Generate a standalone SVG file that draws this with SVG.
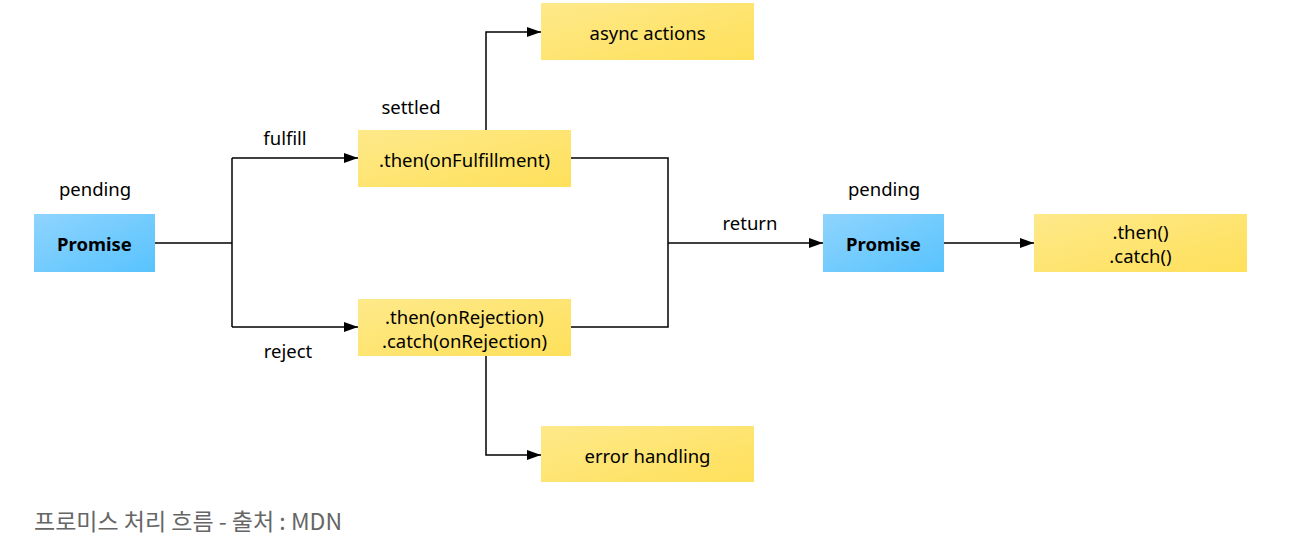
<svg xmlns="http://www.w3.org/2000/svg" width="1306" height="559" viewBox="0 0 1306 559">
<defs>
<linearGradient id="blue" x1="0" y1="0" x2="1" y2="1">
<stop offset="0" stop-color="#8fd4fe"/>
<stop offset="1" stop-color="#58c3fd"/>
</linearGradient>
<linearGradient id="yellow" x1="0" y1="0" x2="1" y2="1">
<stop offset="0" stop-color="#fee98a"/>
<stop offset="1" stop-color="#fee05a"/>
</linearGradient>
<marker id="arr" viewBox="0 0 14 10" refX="14" refY="5" markerWidth="14" markerHeight="10" markerUnits="userSpaceOnUse" orient="auto">
<path d="M0,0 L14,5 L0,10 z" fill="#000"/>
</marker>
<style>
.t{font-family:"Malgun Gothic","Noto Sans","Liberation Sans",sans-serif;font-size:18.5px;fill:#000;text-anchor:middle}
.b{font-weight:bold}
.blue{fill:url(#blue)}
.yel{fill:url(#yellow)}
.c{fill:none;stroke:#000;stroke-width:1.5}
.cap{font-family:"Noto Sans CJK KR","Noto Sans",sans-serif;font-size:23px;fill:#666}
</style>
</defs>
<rect width="1306" height="559" fill="#fff"/>
<g id="connectors">
<path class="c" d="M155,243 H232"/>
<path class="c" d="M232,158 V327"/>
<path class="c" d="M232,158 H358" marker-end="url(#arr)"/>
<path class="c" d="M232,327 H358" marker-end="url(#arr)"/>
<path class="c" d="M486,130 V32 H541" marker-end="url(#arr)"/>
<path class="c" d="M486,356 V455 H541" marker-end="url(#arr)"/>
<path class="c" d="M571,158 H668 V327 H571"/>
<path class="c" d="M668,243 H823" marker-end="url(#arr)"/>
<path class="c" d="M944,243 H1034" marker-end="url(#arr)"/>
</g>
<g id="labels">
<text class="t" x="95" y="196">pending</text>
<text class="t" x="285" y="145">fulfill</text>
<text class="t" x="411" y="114">settled</text>
<text class="t" x="288" y="358">reject</text>
<text class="t" x="750" y="230">return</text>
<text class="t" x="884" y="196">pending</text>
</g>
<g id="promise1">
<rect class="blue" x="34" y="214" width="121" height="58"/>
<text class="t b" x="94.5" y="251">Promise</text>
</g>
<g id="then-fulfill">
<rect class="yel" x="358" y="130" width="213" height="57"/>
<text class="t" x="464.5" y="167">.then(onFulfillment)</text>
</g>
<g id="then-reject">
<rect class="yel" x="358" y="299" width="213" height="57"/>
<text class="t" x="464.5" y="324">.then(onRejection)</text>
<text class="t" x="464.5" y="348">.catch(onRejection)</text>
</g>
<g id="async-actions">
<rect class="yel" x="541" y="3" width="213" height="57"/>
<text class="t" x="647.5" y="40">async actions</text>
</g>
<g id="error-handling">
<rect class="yel" x="541" y="426" width="213" height="56"/>
<text class="t" x="647.5" y="463">error handling</text>
</g>
<g id="promise2">
<rect class="blue" x="823" y="214" width="121" height="58"/>
<text class="t b" x="883.5" y="251">Promise</text>
</g>
<g id="then-catch">
<rect class="yel" x="1034" y="214" width="213" height="58"/>
<text class="t" x="1140.5" y="239">.then()</text>
<text class="t" x="1140.5" y="263">.catch()</text>
</g>
<text class="cap" x="34" y="530">프로미스 처리 흐름 - 출처 : MDN</text>
</svg>
